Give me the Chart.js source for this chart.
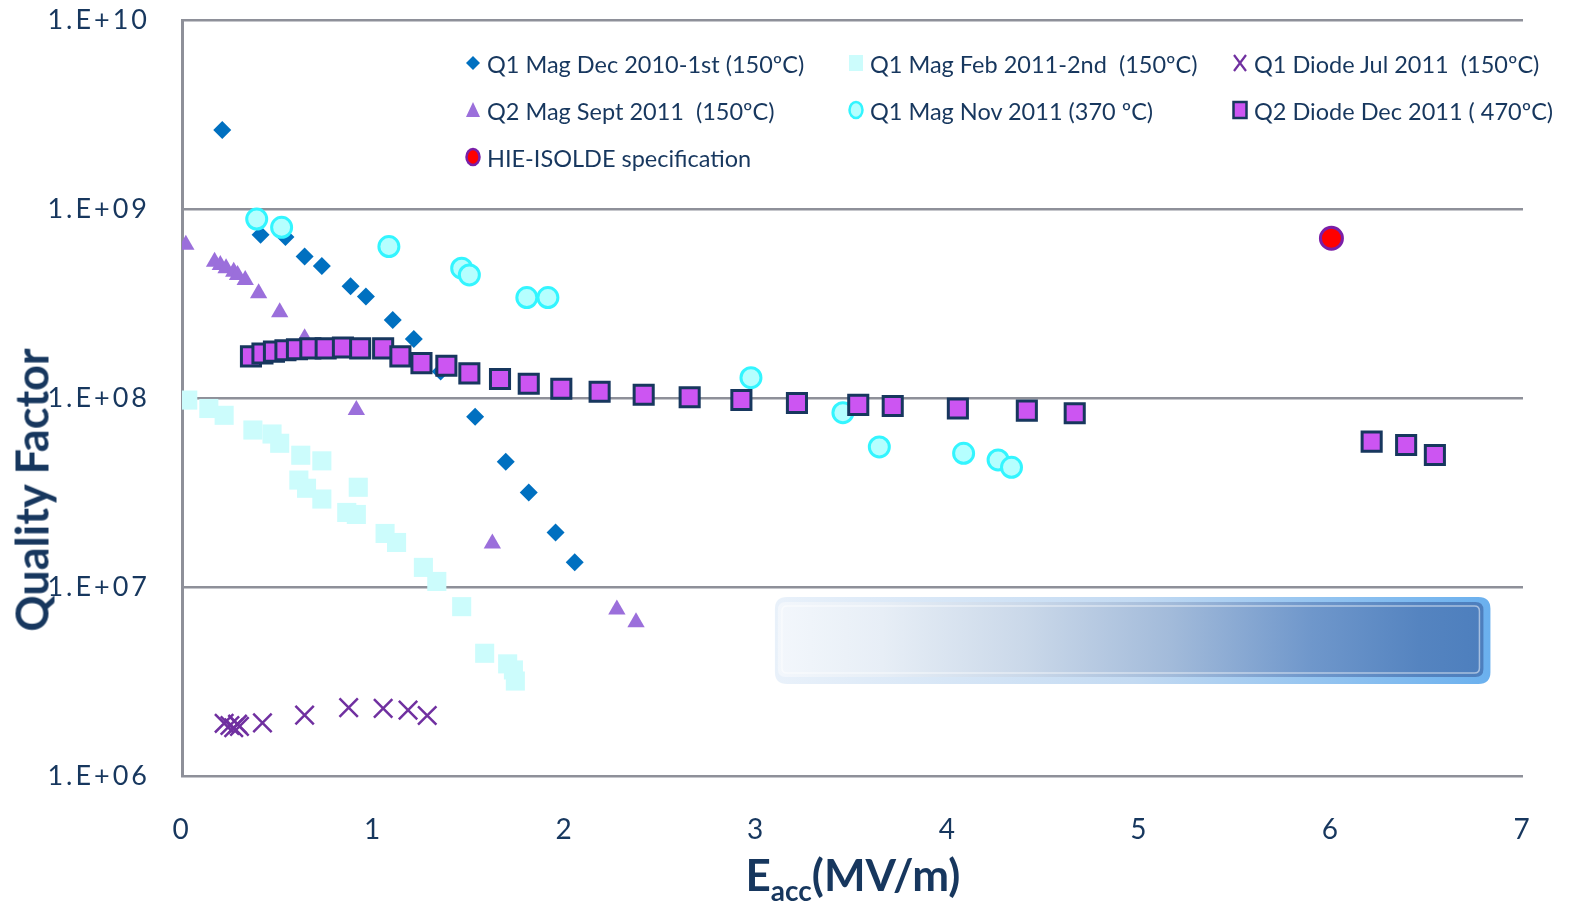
<!DOCTYPE html>
<html>
<head>
<meta charset="utf-8">
<script src="https://cdn.jsdelivr.net/npm/chart.js@4.4.1/dist/chart.umd.min.js"></script>
<style>
html,body{margin:0;padding:0;background:#fff;}
#wrap{position:relative;width:1570px;height:908px;overflow:hidden;}
#c{position:absolute;left:0;top:0;}
.lgm{position:absolute;transform:translate(-50%,-50%);}
.lgt{position:absolute;transform:translateY(-50%);font-family:Lato,sans-serif;font-size:23.5px;color:#17375E;white-space:pre;line-height:1;}
#ytitle{position:absolute;left:32px;top:490px;transform:translate(-50%,-50%) rotate(-90deg);font-family:Lato,sans-serif;font-weight:bold;font-size:45px;color:#17375E;white-space:nowrap;line-height:1;}
#xtitle{position:absolute;left:853px;top:878px;transform:translate(-50%,-50%);font-family:Lato,sans-serif;font-weight:bold;font-size:44px;color:#17375E;white-space:nowrap;line-height:1;}
#xtitle sub{font-size:28px;vertical-align:-10px;}
</style>
</head>
<body>
<div id="wrap">
<canvas id="c" width="1570" height="908"></canvas>
<div id="ytitle">Quality Factor</div>
<div id="xtitle">E<sub>acc</sub>(MV/m)</div>
</div>
<script>
// ---- tick labels ----
const xTickLabels = ['0','1','2','3','4','5','6','7'];
const yTickValues = [1e6, 1e7, 1e8, 1e9, 1e10];
const yTickLabels = ['1.E+06','1.E+07','1.E+08','1.E+09','1.E+10'];

// ---- series labels ----
const seriesLabels = [
  'Q1 Mag Dec 2010-1st (150ºC)',
  'Q1 Mag Feb 2011-2nd  (150ºC)',
  'Q1 Diode Jul 2011  (150ºC)',
  'Q2 Mag Sept 2011  (150ºC)',
  'Q1 Mag Nov 2011 (370 ºC)',
  'Q2 Diode Dec 2011 ( 470ºC)',
  'HIE-ISOLDE specification'
];

// ---- series values (Eacc MV/m, Q) ----
const magDec2010E = [0.21, 0.41, 0.54, 0.64, 0.73, 0.88, 0.96, 1.10, 1.21, 1.35, 1.53, 1.69, 1.81, 1.95, 2.05];
const magDec2010Q = [2.62e9, 7.3e8, 7.1e8, 5.6e8, 5.0e8, 3.9e8, 3.44e8, 2.59e8, 2.05e8, 1.38e8, 7.96e7, 4.6e7, 3.16e7, 1.94e7, 1.35e7];

const magFeb2011E = [0.03, 0.14, 0.22, 0.37, 0.47, 0.51, 0.61, 0.62, 0.65, 0.73, 0.73, 0.86, 0.91, 0.92, 1.06, 1.12, 1.26, 1.33, 1.46, 1.58, 1.70, 1.73, 1.74];
const magFeb2011Q = [9.75e7, 8.8e7, 8.1e7, 6.77e7, 6.45e7, 5.76e7, 3.68e7, 4.98e7, 3.33e7, 4.65e7, 2.92e7, 2.48e7, 2.42e7, 3.37e7, 1.92e7, 1.72e7, 1.27e7, 1.07e7, 7.87e6, 4.46e6, 3.92e6, 3.64e6, 3.18e6];

const diodeJul2011E = [0.22, 0.25, 0.27, 0.29, 0.30, 0.42, 0.64, 0.87, 1.05, 1.18, 1.28];
const diodeJul2011Q = [1.9e6, 1.85e6, 1.8e6, 1.88e6, 1.83e6, 1.91e6, 2.1e6, 2.3e6, 2.28e6, 2.23e6, 2.09e6];

const magSep2011E = [0.02, 0.17, 0.20, 0.23, 0.27, 0.29, 0.33, 0.40, 0.51, 0.64, 0.91, 1.62, 2.27, 2.37];
const magSep2011Q = [6.46e8, 5.26e8, 5.06e8, 4.86e8, 4.66e8, 4.48e8, 4.21e8, 3.58e8, 2.84e8, 2.07e8, 8.65e7, 1.7e7, 7.6e6, 6.5e6];

const magNov2011E = [0.39, 0.52, 1.08, 1.46, 1.50, 1.80, 1.91, 2.97, 3.45, 3.64, 4.08, 4.26, 4.33];
const magNov2011Q = [8.85e8, 8.0e8, 6.33e8, 4.86e8, 4.48e8, 3.4e8, 3.4e8, 1.28e8, 8.36e7, 5.51e7, 5.1e7, 4.7e7, 4.3e7];

const diodeDec2011E = [0.36, 0.42, 0.48, 0.54, 0.60, 0.67, 0.75, 0.84, 0.93, 1.05, 1.14, 1.25, 1.38, 1.50, 1.66, 1.81, 1.98, 2.18, 2.41, 2.65, 2.92, 3.21, 3.53, 3.71, 4.05, 4.41, 4.66, 6.21, 6.39, 6.54];
const diodeDec2011Q = [1.66e8, 1.72e8, 1.76e8, 1.79e8, 1.81e8, 1.83e8, 1.83e8, 1.85e8, 1.83e8, 1.83e8, 1.66e8, 1.53e8, 1.48e8, 1.35e8, 1.26e8, 1.19e8, 1.12e8, 1.08e8, 1.04e8, 1.01e8, 9.75e7, 9.4e7, 9.2e7, 9.07e7, 8.8e7, 8.57e7, 8.3e7, 5.88e7, 5.64e7, 4.99e7];

const specE = [6.0];
const specQ = [7.0e8];

// ---- build ----
const pts = (xs, ys) => xs.map((x, i) => ({x: x, y: ys[i]}));
const TXT = '#17375E';

const styles = [
  {pointStyle:'rectRot', radius:9, bg:'#0070C0', bc:'#0070C0', bw:0, order:7},
  {pointStyle:'rect', radius:13.5, bg:'#CCFCFC', bc:'#CCFCFC', bw:0, order:6},
  {pointStyle:'crossRot', radius:13, bg:'#7030A0', bc:'#7030A0', bw:2.5, order:5},
  {pointStyle:'triangle', radius:10, bg:'#9B6FDB', bc:'#9B6FDB', bw:0, order:4},
  {pointStyle:'circle', radius:10, bg:'#B5FFFF', bc:'#33F5FF', bw:3, order:3},
  {pointStyle:'rect', radius:13.5, bg:'#CC55F2', bc:'#17375E', bw:3, order:2},
  {pointStyle:'circle', radius:11, bg:'#FF0000', bc:'#7A1FA8', bw:3, order:1}
];
const seriesData = [
  pts(magDec2010E, magDec2010Q),
  pts(magFeb2011E, magFeb2011Q),
  pts(diodeJul2011E, diodeJul2011Q),
  pts(magSep2011E, magSep2011Q),
  pts(magNov2011E, magNov2011Q),
  pts(diodeDec2011E, diodeDec2011Q),
  pts(specE, specQ)
];
const datasets = seriesData.map((d, i) => ({
  label: seriesLabels[i],
  data: d,
  showLine: false,
  pointStyle: styles[i].pointStyle,
  pointRadius: styles[i].radius,
  pointHoverRadius: styles[i].radius,
  pointBackgroundColor: styles[i].bg,
  pointBorderColor: styles[i].bc,
  pointBorderWidth: styles[i].bw,
  order: styles[i].order
}));

// decorative gradient panel (data-space bounds)
const panel = {e0: 3.095, e1: 6.83, q0: 8.85e6, q1: 3.07e6};

function rr(ctx, x, y, w, h, r){
  ctx.beginPath();
  ctx.moveTo(x + r, y);
  ctx.lineTo(x + w - r, y);
  ctx.quadraticCurveTo(x + w, y, x + w, y + r);
  ctx.lineTo(x + w, y + h - r);
  ctx.quadraticCurveTo(x + w, y + h, x + w - r, y + h);
  ctx.lineTo(x + r, y + h);
  ctx.quadraticCurveTo(x, y + h, x, y + h - r);
  ctx.lineTo(x, y + r);
  ctx.quadraticCurveTo(x, y, x + r, y);
  ctx.closePath();
}

const panelPlugin = {
  id: 'panel',
  beforeDraw(chart){ chart.ctx.letterSpacing = '3px'; },
  beforeDatasetsDraw(chart){
    const {ctx, scales} = chart;
    const L = scales.x.getPixelForValue(panel.e0), R = scales.x.getPixelForValue(panel.e1);
    const T = scales.y.getPixelForValue(panel.q0), B = scales.y.getPixelForValue(panel.q1);
    ctx.save();
    const gr = ctx.createLinearGradient(L, 0, R, 0);
    gr.addColorStop(0, '#E9F1FA');
    gr.addColorStop(0.5, '#C3DAF2');
    gr.addColorStop(1, '#6AB0EE');
    rr(ctx, L, T, R - L, B - T, 12);
    ctx.fillStyle = gr;
    ctx.fill();
    const g = ctx.createLinearGradient(L, 0, R, 0);
    g.addColorStop(0, '#F3F7FC');
    g.addColorStop(0.15, '#E7EEF6');
    g.addColorStop(0.35, '#CAD8E9');
    g.addColorStop(0.55, '#A3BBDA');
    g.addColorStop(0.75, '#6F97CB');
    g.addColorStop(0.9, '#5584C0');
    g.addColorStop(1, '#4C7EBD');
    rr(ctx, L + 3, T + 5, R - L - 10, B - T - 12, 8);
    ctx.fillStyle = g;
    ctx.fill();
    ctx.strokeStyle = 'rgba(255,255,255,0.5)';
    ctx.lineWidth = 1.5;
    rr(ctx, L + 7, T + 9, R - L - 18, B - T - 20, 5);
    ctx.stroke();
    ctx.restore();
  }
};

const chart = new Chart(document.getElementById('c'), {
  type: 'scatter',
  data: {datasets},
  plugins: [panelPlugin],
  options: {
    responsive: false,
    animation: false,
    devicePixelRatio: 1,
    layout: {padding: {left: 0, right: 47, top: 20, bottom: 0}},
    plugins: {legend: {display: false}, tooltip: {enabled: false}},
    scales: {
      x: {
        type: 'linear', min: 0, max: 7,
        afterBuildTicks: s => { s.ticks = xTickLabels.map((t, i) => ({value: i})); },
        afterFit: s => { s.height = 132; s.paddingLeft = 0; s.paddingRight = 0; },
        grid: {display: false, drawTicks: false},
        border: {display: false},
        ticks: {
          callback: (v, i) => xTickLabels[i],
          color: TXT, padding: 37, maxRotation: 0, autoSkip: false,
          font: {family: 'Lato', size: 28}
        }
      },
      y: {
        type: 'logarithmic', min: 1e6, max: 1e10,
        afterBuildTicks: s => { s.ticks = yTickValues.map(v => ({value: v, major: true})); },
        afterFit: s => { s.width = 182; s.paddingTop = 0; s.paddingBottom = 0; },
        grid: {color: '#8E9099', lineWidth: 2.5, drawTicks: false},
        border: {display: true, color: '#8E9099', width: 3},
        ticks: {
          callback: (v, i) => yTickLabels[i],
          color: TXT, padding: 32, autoSkip: false,
          font: {family: 'Lato', size: 27}
        }
      }
    }
  }
});

// ---- HTML legend built from datasets ----
const legendPos = [[473,65],[856,65],[1240,65],[473,112],[856,112],[1240,112],[473,159]];
function markerSVG(st){
  const s = 22, c = s/2;
  let inner = '';
  if (st.pointStyle === 'rectRot') inner = `<polygon points="${c},${c-7} ${c+7},${c} ${c},${c+7} ${c-7},${c}" fill="${st.bg}"/>`;
  else if (st.pointStyle === 'rect' && st.bw === 0) inner = `<rect x="${c-7}" y="${c-8}" width="14" height="16" fill="${st.bg}"/>`;
  else if (st.pointStyle === 'rect') inner = `<rect x="${c-6.5}" y="${c-8}" width="13" height="16" fill="${st.bg}" stroke="${st.bc}" stroke-width="2.5"/>`;
  else if (st.pointStyle === 'crossRot') inner = `<path d="M${c-6},${c-8} L${c+6},${c+8} M${c+6},${c-8} L${c-6},${c+8}" stroke="${st.bc}" stroke-width="2.2"/>`;
  else if (st.pointStyle === 'triangle') inner = `<polygon points="${c},${c-8} ${c+7},${c+7} ${c-7},${c+7}" fill="${st.bg}"/>`;
  else if (st.pointStyle === 'circle') inner = `<ellipse cx="${c}" cy="${c}" rx="6.5" ry="8" fill="${st.bg}" stroke="${st.bc}" stroke-width="2.5"/>`;
  return `<svg width="${s}" height="${s}" viewBox="0 0 ${s} ${s}">${inner}</svg>`;
}
const wrap = document.getElementById('wrap');
chart.data.datasets.forEach((ds, i) => {
  const [mx, my] = legendPos[i];
  const m = document.createElement('div');
  m.className = 'lgm';
  m.style.left = mx + 'px'; m.style.top = my + 'px';
  m.innerHTML = markerSVG(styles[i]);
  wrap.appendChild(m);
  const t = document.createElement('div');
  t.className = 'lgt';
  t.style.left = (mx + 14) + 'px'; t.style.top = my + 'px';
  t.textContent = ds.label;
  wrap.appendChild(t);
});
</script>
</body>
</html>
